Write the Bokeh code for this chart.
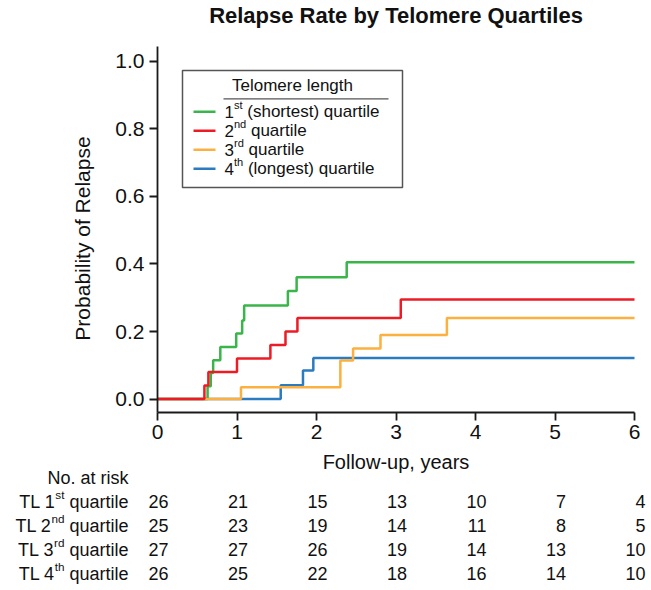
from bokeh.plotting import figure
from bokeh.models import (Range1d, FixedTicker, PrintfTickFormatter, Label,
                          ColumnDataSource, BoxAnnotation, LinearAxis)
from bokeh.embed import file_html
from bokeh.resources import INLINE
from bokeh.core.properties import value
import math

# ---------------- data ----------------
q1_time = [0, 0.63, 0.67, 0.70, 0.79, 0.99, 1.065, 1.09, 1.64, 1.75, 2.38, 6.0]
q1_prob = [0, 0.038, 0.077, 0.115, 0.154, 0.194, 0.233, 0.277, 0.32, 0.361, 0.405, 0.405]

q2_time = [0, 0.59, 0.64, 1.0, 1.42, 1.61, 1.76, 3.06, 6.0]
q2_prob = [0, 0.04, 0.08, 0.12, 0.16, 0.20, 0.24, 0.295, 0.295]

q3_time = [0, 1.05, 2.30, 2.46, 2.805, 3.64, 6.0]
q3_prob = [0, 0.035, 0.114, 0.15, 0.19, 0.24, 0.24]

q4_time = [0, 1.55, 1.83, 1.96, 6.0]
q4_prob = [0, 0.041, 0.085, 0.122, 0.122]

risk_times = [0, 1, 2, 3, 4, 5, 6]
risk_q1 = [26, 21, 15, 13, 10, 7, 4]
risk_q2 = [25, 23, 19, 14, 11, 8, 5]
risk_q3 = [27, 27, 26, 19, 14, 13, 10]
risk_q4 = [26, 25, 22, 18, 16, 14, 10]

ordinals = ["1", "2", "3", "4"]
suffixes = ["st", "nd", "rd", "th"]
legend_rest = ["(shortest) quartile", "quartile", "quartile", "(longest) quartile"]
colors = ["#39b54a", "#ed1c24", "#fbb040", "#2b7bc0"]

x_ticks = [0, 1, 2, 3, 4, 5, 6]
y_ticks = [0.0, 0.2, 0.4, 0.6, 0.8, 1.0]

title_text = "Relapse Rate by Telomere Quartiles"
x_label = "Follow-up, years"
y_label = "Probability of Relapse"
legend_title = "Telomere length"
risk_header = "No. at risk"

# ---------------- layout ----------------
FONT = "Liberation Sans"
W, H = 650, 588
FL, FT, FR, FB = 157, 46, 634, 412      # plot area in canvas pixels
X0, X1 = 0.0, 6.0
Y0, Y1 = -0.0397, 1.044
SX = (FR - FL) / (X1 - X0)              # px per year
SY = (FB - FT) / (Y1 - Y0)              # px per probability unit
BL = 6                                  # baseline correction for svg text

def wx(px):  # canvas px -> data x
    return X0 + (px - FL) / SX

def wy(py):  # canvas py -> data y
    return Y1 - (py - FT) / SY

p = figure(width=W, height=H, output_backend="svg", toolbar_location=None,
           x_range=Range1d(wx(0), wx(W)), y_range=Range1d(wy(H), wy(0)),
           x_axis_location=None, y_axis_location=None,
           min_border=0, min_border_left=0, min_border_right=0,
           min_border_top=0, min_border_bottom=0)
p.outline_line_color = None
p.xgrid.visible = False
p.ygrid.visible = False
p.background_fill_color = "white"
p.border_fill_color = "white"

xaxis = LinearAxis(fixed_location=Y0, bounds=(X0, X1), ticker=FixedTicker(ticks=x_ticks))
yaxis = LinearAxis(fixed_location=X0, bounds=(Y0, Y1), ticker=FixedTicker(ticks=y_ticks),
                   formatter=PrintfTickFormatter(format="%.1f"))
for ax in (xaxis, yaxis):
    ax.axis_line_width = 1.8
    ax.axis_line_color = "#1a1a1a"
    ax.major_tick_line_width = 1.8
    ax.major_tick_line_color = "#1a1a1a"
    ax.major_tick_out = 8
    ax.major_tick_in = 0
    ax.minor_tick_line_color = None
    ax.major_label_text_font = FONT
    ax.major_label_text_font_size = "21px"
    ax.major_label_text_color = "#111111"
    ax.major_label_standoff = 5
xaxis.major_label_standoff = 4
p.add_layout(xaxis, "below")
p.add_layout(yaxis, "left")

# curves (draw order: green, blue, orange, red on top)
series = [(q1_time, q1_prob, colors[0]), (q4_time, q4_prob, colors[3]),
          (q3_time, q3_prob, colors[2]), (q2_time, q2_prob, colors[1])]
for t, pr, c in series:
    p.step(t, pr, mode="after", line_color=c, line_width=2.5)

# ---------------- text helpers ----------------
CW = {' ': 278, '(': 333, ')': 333, '.': 278, ',': 278, '-': 333,
      'T': 611, 'L': 556, 'N': 722, 'F': 611, 'P': 667, 'R': 722,
      'a': 556, 'b': 556, 'c': 500, 'd': 556, 'e': 556, 'f': 278, 'g': 556,
      'h': 556, 'i': 222, 'k': 500, 'l': 222, 'm': 833, 'n': 556, 'o': 556,
      'p': 556, 'q': 556, 'r': 333, 's': 500, 't': 278, 'u': 556, 'w': 722,
      'y': 500}

def tw(s, size):
    return sum(CW.get(ch, 556) for ch in s) / 1000.0 * size

def layout_rich(parts, x_w, base_w, size, align="left"):
    """returns list of (text, x_px, baseline_px, size)."""
    sup = size * 0.65
    items = []
    for t, s in parts:
        sz = sup if s else size
        gap = 0.0
        if t.startswith(" "):
            gap = tw(" ", size)
            t = t.lstrip()
        items.append((t, s, sz, gap, tw(t, sz)))
    total = sum(i[3] + i[4] for i in items)
    cur = x_w if align == "left" else x_w - total
    out = []
    for t, s, sz, gap, w in items:
        cur += gap
        yb = base_w - 0.38 * size if s else base_w
        out.append((t, cur, yb, sz))
        cur += w
    return out

tx_, ty_, tt_, tf_, ta_, tw_ = [], [], [], [], [], []
def add_txt(t, xpx, ypx, size, align="left", bold=False):
    tx_.append(wx(xpx)); ty_.append(wy(ypx - BL)); tt_.append(t)
    tf_.append(f"{size:.1f}px"); ta_.append(align); tw_.append("bold" if bold else "normal")

# title, axis titles
add_txt(title_text, (FL + FR) / 2, 21, 22, "center", bold=True)
add_txt(x_label, (FL + FR) / 2, 467, 20, "center")
p.add_layout(Label(x=wx(88 - BL), y=wy(238), x_units="data", y_units="data", text=y_label,
                   text_font=FONT, text_font_size="21px", text_align="center",
                   text_baseline="alphabetic", angle=math.pi / 2, text_color="#111111"))

# ---------------- legend ----------------
lg_l, lg_r, lg_t, lg_b = 182, 402, 70, 187
p.add_layout(BoxAnnotation(left=wx(lg_l), right=wx(lg_r), top=wy(lg_t), bottom=wy(lg_b),
                           fill_color="white", fill_alpha=1.0,
                           line_color="#555555", line_alpha=1.0, line_width=1.5,
                           level="underlay"))
add_txt(legend_title, (lg_l + lg_r) / 2, 91, 17, "center")
p.segment(x0=[wx(223)], y0=[wy(98.3)], x1=[wx(388)], y1=[wy(98.3)],
          line_color="#555555", line_width=1.2)
row_base = [117, 136, 155, 174]
for i in range(4):
    yc = row_base[i] - 5.8
    p.segment(x0=[wx(193)], y0=[wy(yc)], x1=[wx(215)], y1=[wy(yc)],
              line_color=colors[i], line_width=2.5)
    for t, xw, yb, sz in layout_rich([(ordinals[i], False), (suffixes[i], True),
                                      (" " + legend_rest[i], False)], 224, row_base[i], 17):
        add_txt(t, xw, yb, sz)

# ---------------- risk table ----------------
add_txt(risk_header, 128, 483, 18, "right")
table_base = [507, 531, 555, 579]
risk_rows = [risk_q1, risk_q2, risk_q3, risk_q4]
for i in range(4):
    for t, xw, yb, sz in layout_rich([("TL " + ordinals[i], False), (suffixes[i], True),
                                      (" quartile", False)], 128, table_base[i], 18,
                                     align="right"):
        add_txt(t, xw, yb, sz)

src_lab = ColumnDataSource(dict(x=tx_, y=ty_, text=tt_, fs=tf_, al=ta_, fw=tw_))
p.text(x="x", y="y", text="text", source=src_lab, text_font=value(FONT),
       text_font_size="fs", text_align="al", text_font_style="fw",
       text_baseline="alphabetic", text_color="#111111")

nx, ny, nt = [], [], []
for i, row in enumerate(risk_rows):
    for t, n in zip(risk_times, row):
        nx.append(t)
        ny.append(wy(table_base[i] - BL))
        nt.append(str(n))
src_num = ColumnDataSource(dict(x=nx, y=ny, text=nt))
p.text(x="x", y="y", text="text", source=src_num, x_offset=11,
       text_font=value(FONT), text_font_size="18px", text_align="right",
       text_baseline="alphabetic", text_color="#111111")

open("out.html", "w").write(file_html(p, INLINE))
